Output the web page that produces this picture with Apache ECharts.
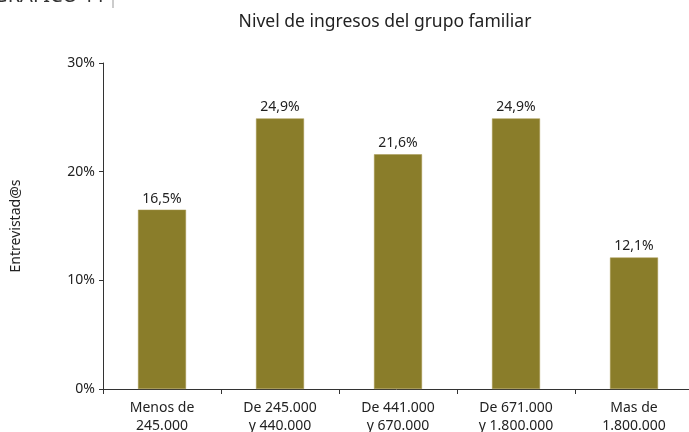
<!DOCTYPE html>
<html>
<head>
<meta charset="utf-8">
<script src="https://cdn.jsdelivr.net/npm/echarts@6/dist/echarts.min.js"></script>
<style>
  html, body { margin: 0; padding: 0; background: #fff; }
  #chart { width: 689px; height: 432px; }
</style>
</head>
<body>
<div id="chart"></div>
<script>
const categories = ["Menos de\n245.000", "De 245.000\ny 440.000", "De 441.000\ny 670.000", "De 671.000\ny 1.800.000", "Mas de\n1.800.000"]
const values = [16.5, 24.9, 21.6, 24.9, 12.1]
const yTicks = [0, 10, 20, 30]

const font = "Noto Sans"
const chart = echarts.init(document.getElementById("chart"))

const option = {
  backgroundColor: "#fff",
  textStyle: { fontFamily: font },
  title: {
    text: "Nivel de ingresos del grupo familiar",
    left: 380,
    top: 8,
    textAlign: "center",
    textStyle: { fontFamily: font, fontSize: 17.5, fontWeight: "normal", color: "#222" }
  },
  graphic: [
    {
      type: "text",
      right: 689 - 106,
      top: -14,
      style: { text: "GRÁFICO 11", font: "20px Noto Sans", fill: "#333" }
    },
    {
      type: "line",
      shape: { x1: 113, y1: 0, x2: 113, y2: 8 },
      style: { stroke: "#999", lineWidth: 1 }
    }
  ],
  grid: { left: 103, right: -4, top: 63, bottom: 43, outerBoundsMode: "none", containLabel: false },
  xAxis: {
    type: "category",
    data: categories,
    axisLine: { lineStyle: { color: "#333", width: 1 } },
    axisTick: { show: true, alignWithLabel: false, length: 5, lineStyle: { color: "#333" } },
    axisLabel: { color: "#222", fontSize: 14, lineHeight: 18, margin: 10, interval: 0 }
  },
  yAxis: {
    type: "value",
    min: yTicks[0],
    max: yTicks[yTicks.length - 1],
    interval: 10,
    name: "Entrevistad@s",
    nameLocation: "middle",
    nameGap: 80,
    nameRotate: 90,
    nameTextStyle: { color: "#222", fontSize: 14 },
    axisLine: { show: true, lineStyle: { color: "#333", width: 1 } },
    axisTick: { show: true, length: 4, lineStyle: { color: "#333" } },
    axisLabel: { color: "#222", fontSize: 14, margin: 8, formatter: v => v + "%" },
    splitLine: { show: false }
  },
  series: [
    {
      type: "bar",
      data: values,
      barWidth: 48,
      itemStyle: { color: "#8A7D2A", borderColor: "#A89A55", borderWidth: 0.5 },
      label: {
        show: true,
        position: "top",
        distance: 4,
        color: "#222",
        fontSize: 14,
        formatter: p => p.value.toFixed(1).replace(".", ",") + "%"
      }
    }
  ]
}

chart.setOption(option)
</script>
</body>
</html>
